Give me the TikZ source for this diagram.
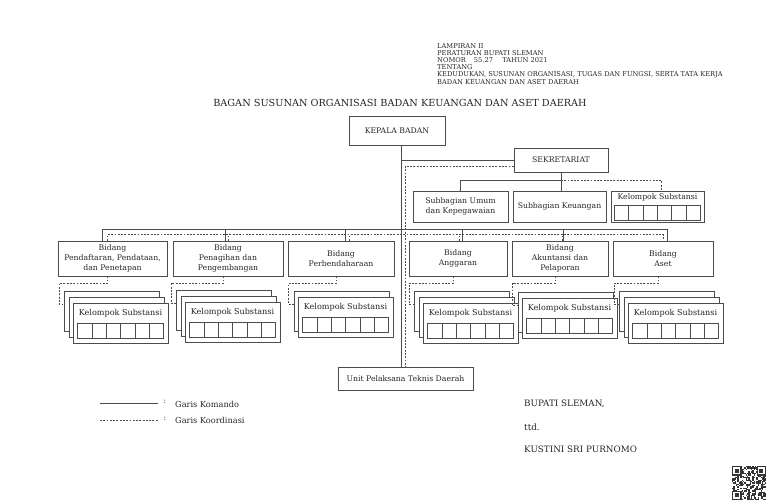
\documentclass[tikz,border=0pt]{standalone}
\usepackage{fontspec}
\setmainfont{DejaVu Serif}
\usetikzlibrary{calc}

\tikzset{
  unitbox/.style={draw=black!70, line width=0.5pt, rectangle, align=center, inner sep=1pt, text=black!85, font=\fontsize{6.6}{8.6}\selectfont},
  sz/.style 2 args={minimum width=#1*0.03cm, minimum height=#2*0.03cm},
  card/.style={draw=black!70, line width=0.5pt, fill=white, anchor=north west, minimum width=95*0.03cm, minimum height=40*0.03cm, inner sep=0pt},
  komando/.style={draw=black!70, line width=0.5pt},
  koordinasi/.style={draw=black!70, line width=0.45pt, dash pattern=on 1.6pt off 1.2pt},
  cells/.pic={
    \draw[black!70, line width=0.4pt] (0,0) rectangle (86,15);
    \foreach \i in {1,...,5} \draw[black!70, line width=0.4pt] (\i*86/6,0) -- ++(0,15);
  },
  kop/.style={anchor=west, inner sep=0pt, text=black!85, font=\fontsize{5.7}{6}\selectfont},
  ttd/.style={anchor=west, inner sep=0pt, text=black!85, font=\fontsize{7.5}{8}\selectfont},
  plain/.style={inner sep=0pt, text=black!85, font=\fontsize{6.6}{8}\selectfont},
}

\begin{document}
\begin{tikzpicture}[x=0.03cm, y=-0.03cm]
\useasboundingbox (0,0) rectangle (768,503);

% kop lampiran
\node[kop] (h1) at (437,46) {LAMPIRAN II};
\node[kop] (h2) at (437,53) {PERATURAN BUPATI SLEMAN};
\node[kop] (h3) at (437,60) {NOMOR\hspace{1.2em}55.27\hspace{1.4em}TAHUN 2021};
\node[kop] (h4) at (437,67) {TENTANG};
\node[kop] (h5) at (437,75) {KEDUDUKAN, SUSUNAN ORGANISASI, TUGAS DAN FUNGSI, SERTA TATA KERJA};
\node[kop] (h6) at (437,82) {BADAN KEUANGAN DAN ASET DAERAH};
\node[plain, font=\fontsize{8.3}{9}\selectfont] (judul) at (400,103) {BAGAN SUSUNAN ORGANISASI BADAN KEUANGAN DAN ASET DAERAH};

% kotak utama
\node[unitbox, sz={96}{29}] (kb) at (397,130.5) {KEPALA BADAN};
\node[unitbox, sz={94}{24}] (sek) at (561,160) {SEKRETARIAT};
\node[unitbox, sz={95}{31}] (su) at (460.5,206.5) {Subbagian Umum\\dan Kepegawaian};
\node[unitbox, sz={93}{31}] (sk) at (559.5,206.5) {Subbagian Keuangan};
\node[unitbox, sz={93}{31}] (sks) at (657.5,206.5) {};
\node[plain] (skst) at ($(sks.north)+(0,7)$) {Kelompok Substansi};
\pic at ($(sks.north west)+(3.5,15)$) {cells};

\node[unitbox, sz={109}{35}] (b1) at (112.5,258.5) {Bidang\\Pendaftaran, Pendataan,\\dan Penetapan};
\node[unitbox, sz={110}{35}] (b2) at (228,258.5) {Bidang\\Penagihan dan\\Pengembangan};
\node[unitbox, sz={106}{35}] (b3) at (341,258.5) {Bidang\\Perbendaharaan};
\node[unitbox, sz={98}{35}] (b4) at (458,258.5) {Bidang\\Anggaran};
\node[unitbox, sz={96}{35}] (b5) at (560,258.5) {Bidang\\Akuntansi dan\\Pelaporan};
\node[unitbox, sz={100}{35}] (b6) at (663,258.5) {Bidang\\Aset};

\node[unitbox, sz={135}{23}] (upt) at (405.5,378.5) {Unit Pelaksana Teknis Daerah};

% kelompok substansi di bawah bidang
\foreach \s/\x/\y/\n in {1/73/303/3, 2/185/302/3, 3/298/297/2, 4/423/303/3, 5/522/298/2, 6/628/303/3} {
  \pgfmathtruncatemacro\m{\n-1}
  \foreach \l in {\m,...,0}
    \node[card] (k\s-\l) at ({\x-4.5*\l},{\y-6*\l}) {};
  \node[plain, font=\fontsize{6.9}{8}\selectfont] (t\s) at ({\x+47.5},{\y+10}) {Kelompok Substansi};
  \pic at ({\x+4.5},{\y+20}) {cells};
}

% garis komando
\draw[komando] ($(kb.south)+(4,0)$) coordinate (m) -- (m |- upt.north);
\draw[komando] (m |- sek.west) -- (sek.west);
\draw[komando] (sek.south) -- ++(0,8) coordinate (sj) -| (su.north);
\draw[komando] (sj) -- (sj |- sk.north);
\draw[komando] ($(b1.north)+(-10,0)$) |- ($(b6.north)+(4,-11)$) -- ($(b6.north)+(4,0)$);
\foreach \b/\dx in {b2/-3, b3/4, b4/4, b5/3}
  \draw[komando] ($(\b.north)+(\dx,0)$) -- ++(0,-11);

% garis koordinasi
\draw[koordinasi] ($(sek.west)+(0,6)$) -| (upt.north);
\draw[koordinasi] (sj) -| ($(sks.north)+(4,0)$);
\draw[koordinasi] ($(b1.north)+(-5,0)$) |- ($(b6.north)+(0,-6)$) -- (b6.north);
\foreach \b/\dx in {b2/0, b3/8, b4/1, b5/2}
  \draw[koordinasi] ($(\b.north)+(\dx,0)$) -- ++(0,-6);
\foreach \b/\k in {b1/k1-2, b2/k2-2, b3/k3-1, b4/k4-2, b5/k5-1, b6/k6-2}
  \draw[koordinasi] ($(\b.south)+(-5,0)$) -- ++(0,7) -| ($(\k.north west)+(-5,13)$) -- ($(\k.north west)+(0,13)$);

% keterangan
\coordinate (ka) at (100,403);
\coordinate (kz) at (158,403);
\coordinate (ta) at (100,420);
\coordinate (tz) at (158,420);
\draw[komando] (ka) -- (kz);
\draw[koordinasi] (ta) -- (tz);
\node[plain] (c1) at (165,402) {:};
\node[plain] (c2) at (165,419) {:};
\node[plain, anchor=west, font=\fontsize{7}{8}\selectfont] (g1) at (175,404) {Garis Komando};
\node[plain, anchor=west, font=\fontsize{7}{8}\selectfont] (g2) at (175,420) {Garis Koordinasi};

% tanda tangan
\node[ttd] (bp) at (524,404) {BUPATI SLEMAN,};
\node[ttd] (td) at (524,427) {ttd.};
\node[ttd] (nm) at (524,449) {KUSTINI SRI PURNOMO};

% kode qr
\pgfmathsetseed{11}
\foreach \i in {0,...,24}
  \foreach \j in {0,...,24} {
    \pgfmathrandominteger{\r}{0}{1}
    \ifnum\r=1 \fill[black!80] ({732+\i*1.36},{466+\j*1.36}) rectangle ++(1.36,1.36); \fi
  }
\foreach \qx/\qy in {732/466, 756.5/466, 732/490.5} {
  \fill[white] (\qx,\qy) rectangle ++(9.52,9.52);
  \fill[black!80] (\qx,\qy) rectangle ++(9.52,9.52);
  \fill[white] ({\qx+1.36},{\qy+1.36}) rectangle ++(6.8,6.8);
  \fill[black!80] ({\qx+2.72},{\qy+2.72}) rectangle ++(4.08,4.08);
}
\end{tikzpicture}
\end{document}
